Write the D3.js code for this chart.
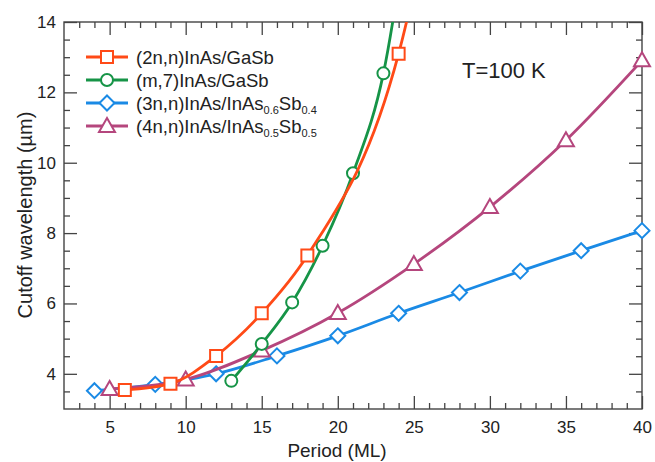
<!DOCTYPE html>
<html>
<head>
<meta charset="utf-8">
<script src="https://cdn.jsdelivr.net/npm/d3@7"></script>
<style>
  html, body { margin: 0; padding: 0; background: #fff; }
  svg { display: block; font-family: "Liberation Sans", Arial, Helvetica, sans-serif; }
</style>
</head>
<body>
<svg id="chart" width="655" height="462"></svg>
<script>
// Period (ML) and cutoff wavelength (µm) for each superlattice family
const period2n = [6, 9, 12, 15, 18, 24, 27];
const cutoff2n = [3.54, 3.72, 4.51, 5.72, 7.36, 13.1, 19.0];

const periodM7 = [13, 15, 17, 19, 21, 23, 25];
const cutoffM7 = [3.80, 4.85, 6.03, 7.64, 9.70, 12.54, 18.0];

const period3n = [4, 8, 12, 16, 20, 24, 28, 32, 36, 40];
const cutoff3n = [3.52, 3.70, 4.00, 4.51, 5.08, 5.72, 6.31, 6.92, 7.50, 8.07];

const period4n = [5, 10, 15, 20, 25, 30, 35, 40];
const cutoff4n = [3.57, 3.84, 4.66, 5.73, 7.12, 8.74, 10.64, 12.91];

const xTickValues = [5, 10, 15, 20, 25, 30, 35, 40];
const yTickValues = [4, 6, 8, 10, 12, 14];
const xDomain = [2, 40];
const yDomain = [3, 14];

// label parts: [text, isSubscript]
const series = [
  { key: "2n", periods: period2n, cutoffs: cutoff2n, color: "#ff4a17", marker: "square",
    label: [["(2n,n)InAs/GaSb", false]] },
  { key: "m7", periods: periodM7, cutoffs: cutoffM7, color: "#169447", marker: "circle",
    label: [["(m,7)InAs/GaSb", false]] },
  { key: "3n", periods: period3n, cutoffs: cutoff3n, color: "#1a8ae5", marker: "diamond",
    label: [["(3n,n)InAs/InAs", false], ["0.6", true], ["Sb", false], ["0.4", true]] },
  { key: "4n", periods: period4n, cutoffs: cutoff4n, color: "#b5467d", marker: "triangle",
    label: [["(4n,n)InAs/InAs", false], ["0.5", true], ["Sb", false], ["0.5", true]] }
];

const margin = { left: 64, right: 13, top: 22, bottom: 53 };
const W = 655, H = 462;
const svg = d3.select("#chart");
const x = d3.scaleLinear().domain(xDomain).range([margin.left, W - margin.right]);
const y = d3.scaleLinear().domain(yDomain).range([H - margin.bottom, margin.top]);

const axisColor = "#444";
const major = 13, minor = 6;

// Minor ticks: every 1 ML on x, every 0.5 µm on y
const xMinor = d3.range(3, 41, 1).filter(v => v % 5 !== 0);
const yMinor = d3.range(3.5, 14, 0.5).filter(v => v % 2 !== 0);

function styleAxis(g) {
  g.select(".domain").remove();
  g.selectAll(".tick line").attr("stroke", axisColor).attr("stroke-width", 1.3);
}
function styleLabels(g) {
  g.selectAll("text").attr("font-size", 17).attr("fill", "#222")
    .attr("font-family", "Liberation Sans, Arial, sans-serif");
}

// bottom axis (inward ticks with labels)
svg.append("g").attr("transform", `translate(0,${y.range()[0]})`)
  .call(d3.axisBottom(x).tickValues(xTickValues).tickSizeInner(-major).tickSizeOuter(0).tickPadding(12))
  .call(styleAxis).call(styleLabels);
svg.append("g").attr("transform", `translate(0,${y.range()[0]})`)
  .call(d3.axisBottom(x).tickValues(xMinor).tickSize(-minor).tickFormat(""))
  .call(styleAxis);
// top axis
svg.append("g").attr("transform", `translate(0,${y.range()[1]})`)
  .call(d3.axisTop(x).tickValues(xTickValues).tickSize(-major).tickFormat(""))
  .call(styleAxis);
svg.append("g").attr("transform", `translate(0,${y.range()[1]})`)
  .call(d3.axisTop(x).tickValues(xMinor).tickSize(-minor).tickFormat(""))
  .call(styleAxis);
// left axis
svg.append("g").attr("transform", `translate(${x.range()[0]},0)`)
  .call(d3.axisLeft(y).tickValues(yTickValues).tickSizeInner(-major).tickSizeOuter(0).tickPadding(8))
  .call(styleAxis).call(styleLabels);
svg.append("g").attr("transform", `translate(${x.range()[0]},0)`)
  .call(d3.axisLeft(y).tickValues(yMinor).tickSize(-minor).tickFormat(""))
  .call(styleAxis);
// right axis
svg.append("g").attr("transform", `translate(${x.range()[1]},0)`)
  .call(d3.axisRight(y).tickValues(yTickValues).tickSize(-major).tickFormat(""))
  .call(styleAxis);
svg.append("g").attr("transform", `translate(${x.range()[1]},0)`)
  .call(d3.axisRight(y).tickValues(yMinor).tickSize(-minor).tickFormat(""))
  .call(styleAxis);

// plot frame
svg.append("rect")
  .attr("x", x.range()[0]).attr("y", y.range()[1])
  .attr("width", x.range()[1] - x.range()[0]).attr("height", y.range()[0] - y.range()[1])
  .attr("fill", "none").attr("stroke", axisColor).attr("stroke-width", 1.4);

// axis titles
svg.append("text")
  .attr("x", 337).attr("y", 457)
  .attr("text-anchor", "middle").attr("font-size", 19).attr("fill", "#222")
  .text("Period (ML)");
svg.append("text")
  .attr("transform", `translate(32,215) rotate(-90)`)
  .attr("text-anchor", "middle").attr("font-size", 20).attr("fill", "#222")
  .text("Cutoff wavelength (µm)");

// clip curves to the plotting area
svg.append("clipPath").attr("id", "plot-clip")
  .append("rect")
  .attr("x", x.range()[0]).attr("y", y.range()[1])
  .attr("width", x.range()[1] - x.range()[0]).attr("height", y.range()[0] - y.range()[1]);

function markerPath(type) {
  switch (type) {
    case "square": return "M-6,-6H6V6H-6Z";
    case "circle": return d3.symbol(d3.symbolCircle, Math.PI * 36)();
    case "diamond": return "M0,-7.5L7.5,0L0,7.5L-7.5,0Z";
    case "triangle": return "M0,-8L8,6H-8Z";
  }
}

const line = d3.line().curve(d3.curveMonotoneX).x(d => x(d[0])).y(d => y(d[1]));
const drawOrder = ["3n", "4n", "m7", "2n"];

drawOrder.forEach(k => {
  const s = series.find(d => d.key === k);
  const pts = d3.zip(s.periods, s.cutoffs);
  const g = svg.append("g");
  g.append("path")
    .attr("clip-path", "url(#plot-clip)")
    .attr("d", line(pts))
    .attr("fill", "none").attr("stroke", s.color).attr("stroke-width", 2.8)
    .attr("stroke-linejoin", "round");
  g.selectAll("path.mk")
    .data(pts.filter(p => p[1] <= yDomain[1]))
    .join("path").attr("class", "mk")
    .attr("transform", p => `translate(${x(p[0])},${y(p[1])})`)
    .attr("d", markerPath(s.marker))
    .attr("fill", "#fff").attr("stroke", s.color).attr("stroke-width", 2);
});

// legend
const legend = svg.append("g");
const legendRows = [57, 80, 103, 126];
const subShift = 4;
series.forEach((s, i) => {
  const ly = legendRows[i];
  legend.append("line").attr("x1", 86).attr("x2", 128).attr("y1", ly).attr("y2", ly)
    .attr("stroke", s.color).attr("stroke-width", 2.8);
  legend.append("path").attr("transform", `translate(107,${ly})`)
    .attr("d", markerPath(s.marker))
    .attr("fill", "#fff").attr("stroke", s.color).attr("stroke-width", 2);
  const t = legend.append("text").attr("x", 136).attr("y", ly + 6.5)
    .attr("font-size", 18.5).attr("fill", "#222");
  let lowered = false;
  s.label.forEach(([txt, sub]) => {
    const dy = sub === lowered ? 0 : (sub ? subShift : -subShift);
    const span = t.append("tspan").attr("dy", dy).text(txt);
    if (sub) span.attr("font-size", 11);
    lowered = sub;
  });
});

// temperature annotation
svg.append("text").attr("x", 462).attr("y", 78)
  .attr("font-size", 22).attr("fill", "#222").text("T=100 K");
</script>
</body>
</html>
